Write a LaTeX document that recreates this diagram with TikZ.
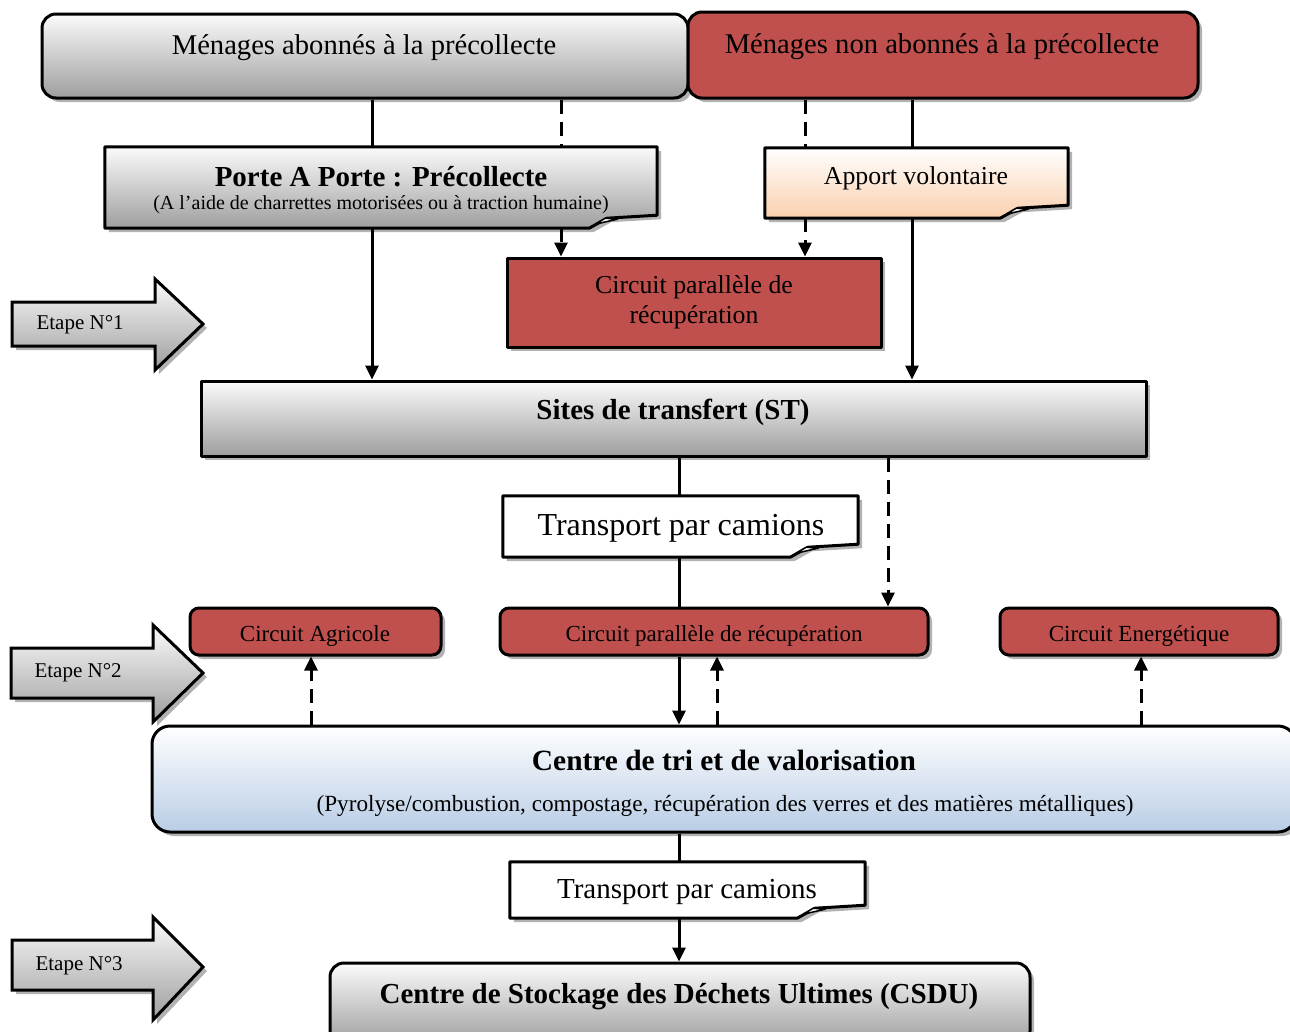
\documentclass[tikz,border=0pt]{standalone}
\usepackage{fontspec}
\setmainfont{Liberation Serif}
\usetikzlibrary{arrows.meta,shadows,calc}
\pgfdeclarelayer{background}
\pgfsetlayers{background,main}
\definecolor{redfill}{HTML}{C0504D}
\definecolor{graybot}{HTML}{9E9E9E}
\definecolor{graytop}{HTML}{FBFBFB}
\definecolor{peachbot}{HTML}{FAD0AE}
\definecolor{bluebot}{HTML}{B9CDE5}
\newcommand\fsMen{\fontsize{28.6}{32}\selectfont}
\newcommand\fsBig{\fontsize{29}{32}\selectfont\bfseries}
\newcommand\fsSub{\fontsize{20}{22}\selectfont}
\newcommand\fsApp{\fontsize{25.8}{30}\selectfont}
\newcommand\fsEt{\fontsize{21}{24}\selectfont}
\newcommand\fsCir{\fontsize{23}{26}\selectfont}
\newcommand\curlbox[2]{%
 \begin{pgfonlayer}{background}
 \fill[black, opacity=0.3, transform canvas={shift={(4pt,-4pt)}}] (#1.north west) -- (#1.north east) -- ([yshift=13pt]#1.south east) -- ([xshift=-50pt,yshift=10pt]#1.south east) -- ([xshift=-68pt]#1.south east) -- (#1.south west) -- cycle;
 \path[#2, draw=black, line width=3pt, line join=round] (#1.north west) -- (#1.north east) -- ([yshift=13pt]#1.south east) -- ([xshift=-50pt,yshift=10pt]#1.south east) -- ([xshift=-68pt]#1.south east) -- (#1.south west) -- cycle;
 \filldraw[fill=white, line width=1.5pt, line join=round] ([xshift=-62pt,yshift=4pt]#1.south east) -- ([xshift=-52pt,yshift=10pt]#1.south east) -- ([xshift=-40pt,yshift=9pt]#1.south east) -- cycle;
 \end{pgfonlayer}}
\tikzset{
  bx/.style={draw=black, line width=3pt, inner sep=0pt, line join=round},
  shd/.style={drop shadow={shadow xshift=4pt, shadow yshift=-4pt, fill=black, opacity=0.3}},
  graybox/.style={bx, shd, top color=graytop, bottom color=graybot},
  redbox/.style={bx, shd, fill=redfill},
  holder/.style={inner sep=0pt, draw=none},
  conn/.style={line width=3pt},
  arr/.style={conn, -{Triangle[length=14pt,width=13pt]}},
  dsh/.style={dash pattern=on 14pt off 8pt},
  etarrow/.style={draw=black, line width=3pt, line join=miter, top color=graytop, bottom color=graybot},
}
\begin{document}
\begin{tikzpicture}[x=1pt,y=-1pt]
\useasboundingbox (0,0) rectangle (1290,1031);
\clip (0,0) rectangle (1290,1031);
\begin{pgfonlayer}{background}
\fill[white] (0,0) rectangle (1290,1031);
\end{pgfonlayer}

% ---- top boxes
\node[graybox, rounded corners=14pt, minimum width=646pt, minimum height=84pt] (A) at (365,56) {};
\node[font=\fsMen] (tA) at (364,48) {Ménages abonnés à la précollecte};
\node[redbox, rounded corners=14pt, minimum width=510pt, minimum height=86pt] (B) at (943,55) {};
\node[font=\fsMen] (tB) at (942,47) {Ménages non abonnés à la précollecte};

% ---- document boxes
\node[holder, minimum width=552pt, minimum height=81pt] (P) at (381,187.5) {};
\curlbox{P}{top color=graytop, bottom color=graybot}
\node[font=\fsBig] (tP) at (381,177) {Porte A Porte : Précollecte};
\node[font=\fsSub] (tPs) at (381,205) {(A l’aide de charrettes motorisées ou à traction humaine)};

\node[holder, minimum width=303pt, minimum height=70pt] (V) at (916.5,183) {};
\curlbox{V}{top color=white, bottom color=peachbot}
\node[font=\fsApp] (tV) at (916,178) {Apport volontaire};

% ---- circuit parallele 1
\node[bx, shd, fill=redfill, minimum width=374pt, minimum height=89pt] (C1) at (694,302.5) {};
\node[font=\fsApp, align=center] (tC1) at (694,302) {Circuit parallèle de\\récupération};

% ---- Sites de transfert
\node[graybox, minimum width=945pt, minimum height=75pt] (ST) at (673.5,418.5) {};
\node[font=\fsBig] (tST) at (673,412) {Sites de transfert (ST)};

% ---- Transport 1
\node[holder, minimum width=355pt, minimum height=61pt] (T1) at (680.5,526.5) {};
\curlbox{T1}{fill=white}
\node[font=\fontsize{32}{36}\selectfont] (tT1) at (681,528) {Transport par camions};

% ---- circuits row
\node[redbox, rounded corners=9pt, minimum width=251pt, minimum height=47pt] (CA) at (315.5,631.5) {};
\node[font=\fsCir] (tCA) at (315,636) {Circuit Agricole};
\node[redbox, rounded corners=9pt, minimum width=428pt, minimum height=47pt] (C2) at (714,631.5) {};
\node[font=\fsCir] (tC2) at (714,636) {Circuit parallèle de récupération};
\node[redbox, rounded corners=9pt, minimum width=278pt, minimum height=47pt] (CE) at (1139,631.5) {};
\node[font=\fsCir] (tCE) at (1139,636) {Circuit Energétique};

% ---- Centre de tri
\node[bx, shd, rounded corners=18pt, top color=white, bottom color=bluebot, minimum width=1144pt, minimum height=106pt] (CT) at (724,779) {};
\node[font=\fontsize{29.4}{32}\selectfont\bfseries] (tCT) at (724,760) {Centre de tri et de valorisation};
\node[font=\fontsize{23.2}{26}\selectfont] (tCTs) at (725,806) {(Pyrolyse/combustion, compostage, récupération des verres et des matières métalliques)};

% ---- Transport 2
\node[holder, minimum width=355pt, minimum height=56pt] (T2) at (687.5,890) {};
\curlbox{T2}{fill=white}
\node[font=\fontsize{29}{32}\selectfont] (tT2) at (687,892) {Transport par camions};

% ---- CSDU
\node[graybox, rounded corners=14pt, minimum width=700pt, minimum height=82pt] (CS) at (680,1004) {};
\node[font=\fsBig] (tCS) at (679,997) {Centre de Stockage des Déchets Ultimes (CSDU)};

% ---- Etape arrows
\begin{scope}
\fill[black, opacity=0.3, transform canvas={shift={(4pt,-4pt)}}] (12,302) -- (155,302) -- (155,279) -- (203,324) -- (155,370) -- (155,346) -- (12,346) -- cycle;
\path[etarrow] (12,302) -- (155,302) -- (155,279) -- (203,324) -- (155,370) -- (155,346) -- (12,346) -- cycle;
\fill[black, opacity=0.3, transform canvas={shift={(4pt,-4pt)}}] (11,648) -- (153,648) -- (153,625) -- (203,673) -- (153,722) -- (153,698) -- (11,698) -- cycle;
\path[etarrow] (11,648) -- (153,648) -- (153,625) -- (203,673) -- (153,722) -- (153,698) -- (11,698) -- cycle;
\fill[black, opacity=0.3, transform canvas={shift={(4pt,-4pt)}}] (12,940) -- (153,940) -- (153,917) -- (203,967) -- (153,1020) -- (153,990) -- (12,990) -- cycle;
\path[etarrow] (12,940) -- (153,940) -- (153,917) -- (203,967) -- (153,1020) -- (153,990) -- (12,990) -- cycle;
\end{scope}
\node[font=\fsEt, anchor=west] (e1) at (33,325) {Etape N°1};
\node[font=\fsEt, anchor=west] (e2) at (31,673) {Etape N°2};
\node[font=\fsEt, anchor=west] (e3) at (32,966) {Etape N°3};

% ---- connectors
\draw[conn] (A.south -| 372,0) -- (P.north -| 372,0);
\draw[arr] (P.south -| 372,0) -- (ST.north -| 372,0);
\draw[conn,dsh] (A.south -| 561,0) -- (P.north -| 561,0);
\draw[arr,dsh] (P.south -| 561,0) -- (C1.north -| 561,0);
\draw[conn,dsh] (B.south -| 805,0) -- (V.north -| 805,0);
\draw[arr,dsh] (V.south -| 805,0) -- (C1.north -| 805,0);
\draw[conn] (B.south -| 912,0) -- (V.north -| 912,0);
\draw[arr] (V.south -| 912,0) -- (ST.north -| 912,0);
\draw[conn] (ST.south -| 679,0) -- (T1.north -| 679,0);
\draw[conn] (T1.south -| 679,0) -- (C2.north -| 679,0);
\draw[arr] (C2.south -| 679,0) -- (CT.north -| 679,0);
\draw[arr,dsh] (ST.south -| 888,0) -- (C2.north -| 888,0);
\draw[arr,dsh] (CT.north -| 311,0) -- (CA.south -| 311,0);
\draw[arr,dsh] (CT.north -| 717,0) -- (C2.south -| 717,0);
\draw[arr,dsh] (CT.north -| 1141,0) -- (CE.south -| 1141,0);
\draw[conn] (CT.south -| 679,0) -- (T2.north -| 679,0);
\draw[arr] (T2.south -| 679,0) -- (CS.north -| 679,0);
\end{tikzpicture}
\end{document}
